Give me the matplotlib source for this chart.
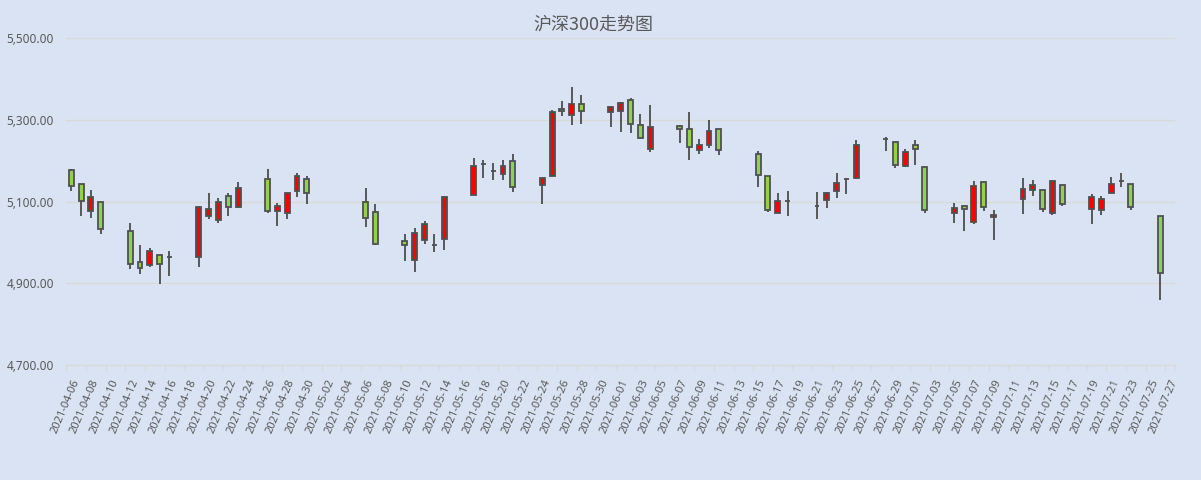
import numpy as np
import pandas as pd
import matplotlib
matplotlib.use("Agg")
import matplotlib.pyplot as plt

plt.rcParams['font.family'] = ['Noto Sans CJK SC', 'DejaVu Sans']

# trading days and OHLC
dates = ["2021-04-06", "2021-04-07", "2021-04-08", "2021-04-09",
         "2021-04-12", "2021-04-13", "2021-04-14", "2021-04-15", "2021-04-16",
         "2021-04-19", "2021-04-20", "2021-04-21", "2021-04-22", "2021-04-23",
         "2021-04-26", "2021-04-27", "2021-04-28", "2021-04-29", "2021-04-30",
         "2021-05-06", "2021-05-07",
         "2021-05-10", "2021-05-11", "2021-05-12", "2021-05-13", "2021-05-14",
         "2021-05-17", "2021-05-18", "2021-05-19", "2021-05-20", "2021-05-21",
         "2021-05-24", "2021-05-25", "2021-05-26", "2021-05-27", "2021-05-28",
         "2021-05-31", "2021-06-01", "2021-06-02", "2021-06-03", "2021-06-04",
         "2021-06-07", "2021-06-08", "2021-06-09", "2021-06-10", "2021-06-11",
         "2021-06-15", "2021-06-16", "2021-06-17", "2021-06-18",
         "2021-06-21", "2021-06-22", "2021-06-23", "2021-06-24", "2021-06-25",
         "2021-06-28", "2021-06-29", "2021-06-30", "2021-07-01", "2021-07-02",
         "2021-07-05", "2021-07-06", "2021-07-07", "2021-07-08", "2021-07-09",
         "2021-07-12", "2021-07-13", "2021-07-14", "2021-07-15", "2021-07-16",
         "2021-07-19", "2021-07-20", "2021-07-21", "2021-07-22", "2021-07-23",
         "2021-07-26"]

opens = [5178, 5142, 5077, 5100,
         5027, 4951, 4946, 4970, 4965,
         4965, 5065, 5055, 5115, 5087,
         5156, 5076, 5073, 5126, 5156,
         5098, 5074,
         5004, 4957, 5005, 4993, 5008,
         5116, 5191, 5174, 5168, 5200,
         5141, 5164, 5327, 5312, 5339,
         5320, 5322, 5349, 5288, 5229,
         5285, 5278, 5227, 5238, 5278,
         5217, 5163, 5072, 5102,
         5089, 5104, 5126, 5155, 5157,
         5253, 5246, 5187, 5239, 5185,
         5072, 5089, 5050, 5148, 5062,
         5106, 5129, 5129, 5072, 5141,
         5082, 5080, 5121, 5150, 5143,
         5065]
highs = [5181, 5142, 5129, 5100,
         5047, 4995, 4987, 4970, 4978,
         5089, 5120, 5110, 5120, 5149,
         5181, 5096, 5120, 5171, 5163,
         5133, 5094,
         5021, 5035, 5053, 5022, 5113,
         5206, 5202, 5195, 5202, 5217,
         5158, 5324, 5347, 5381, 5361,
         5332, 5344, 5354, 5315, 5337,
         5288, 5320, 5254, 5300, 5278,
         5224, 5163, 5121, 5126,
         5124, 5124, 5170, 5158, 5251,
         5259, 5246, 5229, 5251, 5185,
         5097, 5092, 5151, 5148, 5080,
         5158, 5153, 5129, 5153, 5141,
         5119, 5114, 5160, 5170, 5143,
         5065]
lows = [5125, 5066, 5061, 5022,
        4934, 4924, 4941, 4899, 4919,
        4941, 5058, 5048, 5066, 5085,
        5073, 5040, 5058, 5111, 5095,
        5037, 4995,
        4954, 4927, 4996, 4977, 4981,
        5116, 5158, 5153, 5153, 5124,
        5094, 5162, 5310, 5288, 5290,
        5283, 5271, 5268, 5256, 5222,
        5244, 5202, 5217, 5231, 5214,
        5136, 5075, 5072, 5065,
        5058, 5085, 5109, 5119, 5155,
        5224, 5182, 5184, 5190, 5072,
        5048, 5028, 5045, 5077, 5006,
        5070, 5114, 5075, 5067, 5089,
        5045, 5067, 5121, 5136, 5080,
        4859]
closes = [5139, 5102, 5112, 5033,
          4947, 4938, 4980, 4947, 4964,
          5087, 5083, 5098, 5087, 5134,
          5077, 5090, 5120, 5164, 5122,
          5061, 4996,
          4994, 5023, 5045, 4993, 5111,
          5187, 5191, 5174, 5187, 5136,
          5158, 5320, 5322, 5339, 5321,
          5332, 5342, 5290, 5256, 5283,
          5278, 5234, 5239, 5273, 5227,
          5165, 5080, 5102, 5102,
          5089, 5121, 5146, 5155, 5239,
          5253, 5190, 5222, 5229, 5080,
          5085, 5082, 5138, 5087, 5067,
          5131, 5141, 5082, 5151, 5094,
          5111, 5107, 5143, 5150, 5087,
          4925]

start = pd.Timestamp("2021-04-06")
end = pd.Timestamp("2021-07-27")
days = pd.to_datetime(dates)
x = np.array((days - start).days)
o = np.array(opens, dtype=float)
h = np.array(highs, dtype=float)
l = np.array(lows, dtype=float)
c = np.array(closes, dtype=float)

bg = '#DAE3F3'
txt = '#595959'
fig = plt.figure(figsize=(12.01, 4.8), dpi=100, facecolor=bg)
ax = fig.add_axes([0.0553, 0.2396, 0.9231, 0.6806], facecolor=bg)

# wicks then bodies (red = close above open)
ax.vlines(x, l, h, color='#404040', linewidth=1.2, zorder=2)
colors = np.where(c > o, '#FF0000', '#92D050')
body_low = np.minimum(o, c)
body_h = np.maximum(np.abs(c - o), 0.6)
ax.bar(x, body_h, bottom=body_low, width=0.5, color=colors,
       edgecolor='#505050', linewidth=1.3, zorder=3)

nd = (end - start).days
ax.set_xlim(-0.5, nd + 0.5)
ax.set_ylim(4700, 5500)

yt = [4700, 4900, 5100, 5300, 5500]
ax.set_yticks(yt)
ax.set_yticklabels([f"{v:,.2f}" for v in yt], fontsize=8.5, color=txt,
                   family=['Noto Sans', 'DejaVu Sans'])
ax.tick_params(axis='y', length=0, pad=9)
ax.grid(axis='y', color='#D9D9D9', linewidth=1)
ax.set_axisbelow(True)

lab_pos = np.arange(0, nd + 1, 2)
lab_txt = [(start + pd.Timedelta(days=int(d))).strftime("%Y-%m-%d") for d in lab_pos]
ax.set_xticks(lab_pos)
ax.set_xticklabels(lab_txt, rotation=67, ha='right', va='top',
                   rotation_mode='anchor', fontsize=8, color=txt,
                   family=['Noto Sans', 'DejaVu Sans'])
ax.tick_params(axis='x', length=0, pad=9)
ax.set_xticks(np.append(lab_pos - 0.5, nd + 0.5), minor=True)
ax.tick_params(axis='x', which='minor', length=3.5, color='#D9D9D9', width=1)

for s in ['top', 'right', 'left']:
    ax.spines[s].set_visible(False)
ax.spines['bottom'].set_color('#D9D9D9')

fig.text(0.494, 0.948, "沪深300走势图", ha='center', va='center',
         fontsize=13, color=txt)

fig.savefig("out.png", dpi=100, facecolor=bg)
